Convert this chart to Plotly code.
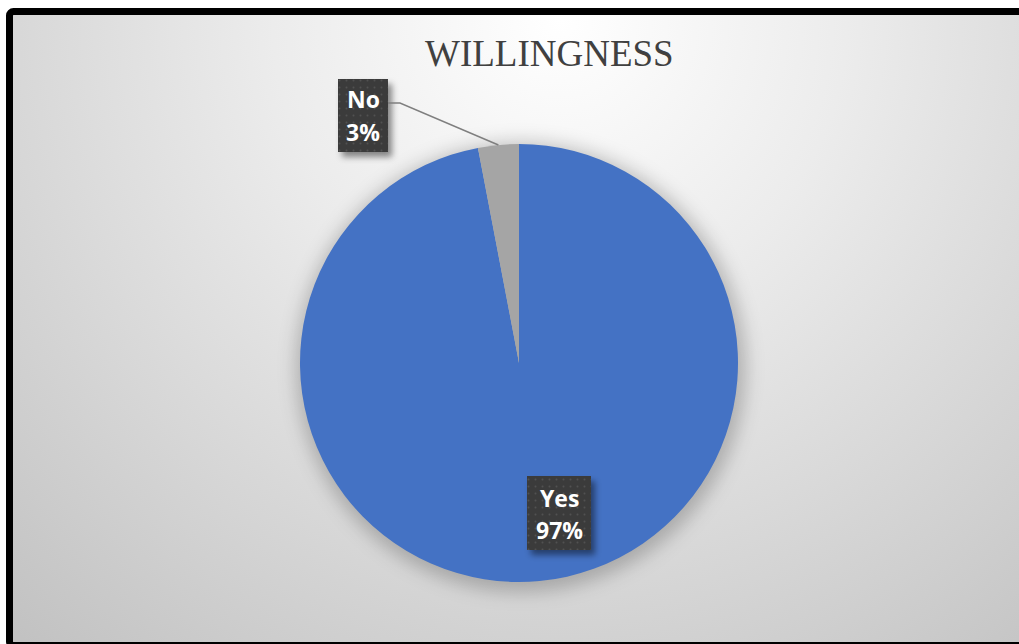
import base64
import math
import plotly.graph_objects as go

# Survey result
labels = ["Yes", "No"]
values = [97, 3]
colors = ["#4472C4", "#A5A5A5"]
title_text = "WILLINGNESS"

W, H = 1019, 644
CX, CY, R = 519, 363, 219  # pie centre / radius in pixels

def px(x):
    return x / W

def py(y):
    return 1 - y / H

def svg_uri(body, defs=""):
    s = (f"<svg xmlns='http://www.w3.org/2000/svg' width='{W}' height='{H}' viewBox='0 0 {W} {H}'>"
         f"<defs>{defs}</defs>{body}</svg>")
    return "data:image/svg+xml;base64," + base64.b64encode(s.encode()).decode()

# Background: radial grey gradient, soft pie shadow and a black frame
bg_defs = """
<radialGradient id='g' gradientUnits='userSpaceOnUse' cx='560' cy='20' r='820'>
<stop offset='0' stop-color='#ffffff'/>
<stop offset='0.35' stop-color='#ececec'/>
<stop offset='1' stop-color='#c2c2c2'/>
</radialGradient>
<filter id='b' x='-50%' y='-50%' width='200%' height='200%'><feGaussianBlur stdDeviation='9'/></filter>
"""
bg_body = f"""
<rect x='0' y='0' width='{W}' height='{H}' fill='#ffffff'/>
<rect x='9.5' y='11.5' width='1100' height='634' rx='4' fill='url(#g)' stroke='#000000' stroke-width='7'/>
<circle cx='{CX + 2}' cy='{CY + 4}' r='{R + 6}' fill='#000000' fill-opacity='0.22' filter='url(#b)'/>
"""

fig = go.Figure(
    go.Pie(
        labels=labels,
        values=values,
        marker=dict(colors=colors, line=dict(width=0)),
        sort=False,
        direction="clockwise",
        rotation=0,
        textinfo="none",
        hoverinfo="label+percent",
        showlegend=False,
        domain=dict(x=[px(CX - R), px(CX + R)], y=[py(CY + R), py(CY - R)]),
    )
)

total = sum(values)
pct = [round(100 * v / total) for v in values]

# Data label boxes (pixel rectangles) and text line centres
boxes = {"No": (338, 79, 388, 152), "Yes": (527, 476, 591, 550)}
line_y = {"No": (99, 132), "Yes": (498, 530)}

# Overlay: dotted dark label boxes with blurred drop shadows
ov_defs = """
<filter id='s' x='-50%' y='-50%' width='200%' height='200%'><feGaussianBlur stdDeviation='3'/></filter>
<pattern id='d' x='0' y='0' width='7' height='7' patternUnits='userSpaceOnUse'>
<rect width='7' height='7' fill='#3b3b3b'/><circle cx='3.5' cy='3.5' r='1' fill='#515151'/>
</pattern>
"""
ov_body = ""
annotations = []
for lab, p in zip(labels, pct):
    x0, y0, x1, y1 = boxes[lab]
    ov_body += (f"<rect x='{x0 + 4}' y='{y0 + 5}' width='{x1 - x0}' height='{y1 - y0}' "
                f"fill='#000000' fill-opacity='0.45' filter='url(#s)'/>")
    ov_body += f"<rect x='{x0}' y='{y0}' width='{x1 - x0}' height='{y1 - y0}' fill='url(#d)'/>"
    xc = (x0 + x1) / 2
    for txt, yy in zip([lab, f"{p}%"], line_y[lab]):
        annotations.append(dict(text=f"<b>{txt}</b>", x=px(xc), y=py(yy), xref="paper", yref="paper",
                                xanchor="center", yanchor="middle", showarrow=False,
                                font=dict(family="Open Sans", size=23, color="#ffffff")))

# Leader line from the "No" box to the middle of its slice
start_frac = sum(values[:1]) / total
mid_frac = start_frac + values[1] / total / 2
ang = 2 * math.pi * mid_frac
ax = CX + R * math.sin(ang)
ay = CY - R * math.cos(ang)
ly = 103
shapes = [dict(type="path", xref="paper", yref="paper",
               path=f"M {px(388)} {py(ly)} L {px(400)} {py(ly)} L {px(ax)} {py(ay)}",
               line=dict(color="#7f7f7f", width=1.5), layer="above")]

# Title
annotations.append(dict(text=title_text, x=px(549.5), y=py(53), xref="paper", yref="paper",
                        xanchor="center", yanchor="middle", showarrow=False,
                        font=dict(family="Liberation Serif", size=37, color="#404040")))

fig.update_layout(
    width=W, height=H,
    margin=dict(l=0, r=0, t=0, b=0),
    paper_bgcolor="#ffffff",
    images=[
        dict(source=svg_uri(bg_body, bg_defs), xref="paper", yref="paper", x=0, y=1, sizex=1, sizey=1,
             xanchor="left", yanchor="top", sizing="stretch", layer="below"),
        dict(source=svg_uri(ov_body, ov_defs), xref="paper", yref="paper", x=0, y=1, sizex=1, sizey=1,
             xanchor="left", yanchor="top", sizing="stretch", layer="above"),
    ],
    shapes=shapes,
    annotations=annotations,
)

fig.write_html("out.html")
